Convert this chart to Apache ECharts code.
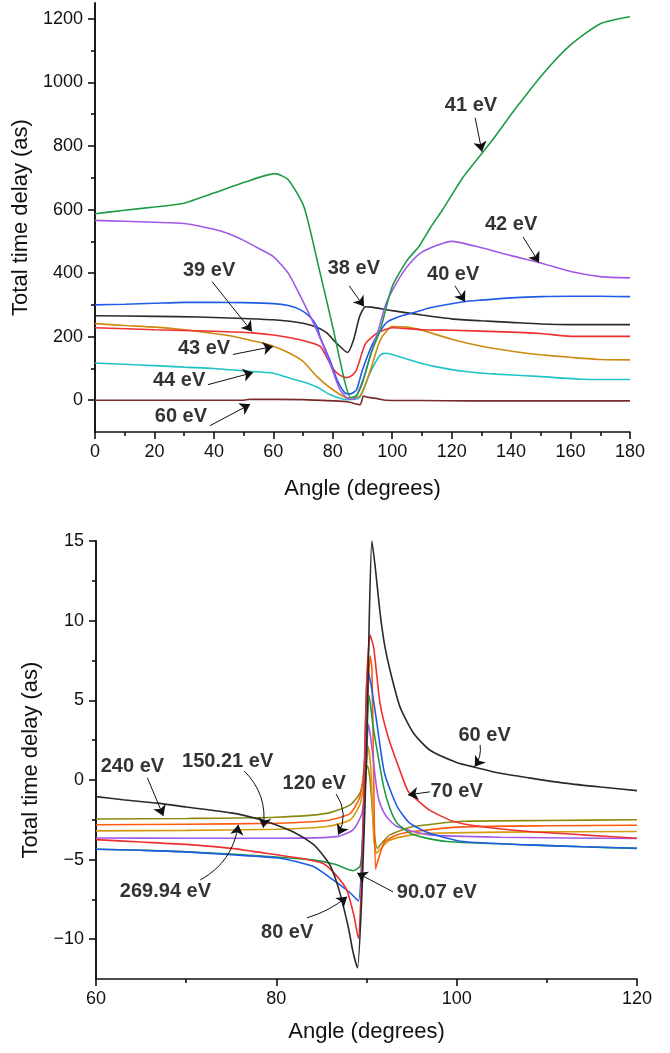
<!DOCTYPE html>
<html>
<head>
<meta charset="utf-8">
<script src="https://cdn.jsdelivr.net/npm/echarts@6/dist/echarts.min.js"></script>
<style>
    html, body { margin: 0; padding: 0; background: #fff; }
    #chart { width: 670px; height: 1053px; }
</style>
</head>
<body>
<div id="chart"></div>
<script>
    // ---- top panel: angle (deg) vs total time delay (as) ----
    var top38 = [[0,266],[20,264],[35,262],[50,257],[60,253],[70,242],[75,228],[78,212],[81,182],[85,150],[87,190],[89,263],[91,294],[93,293],[100,282],[110,268],[120,256],[130,250],[140,245],[150,240],[160,238],[170,238],[180,238]];
    var top39 = [[0,228],[20,222],[40,217],[53,212],[60,205],[69,190],[75.7,170],[77,152],[80,100],[82.5,78],[84.6,71],[86.5,78],[88,96],[91,178],[95,212],[100,228],[110,222],[120,220],[135,216],[150,210],[160,201],[170,201],[180,201]];
    var top40 = [[0,300],[10,302],[20,305],[30,308],[40,308],[50,307],[60,304],[65,298],[69,285],[72.3,263],[74.7,231],[75.7,200],[79,127],[81.4,65],[84,24],[86,20],[88,33],[90,96],[93.6,181],[98,244],[102,262],[107,275],[112.7,291],[124,310],[130,315],[140,322],[150,326],[160,327],[170,327],[180,326]];
    var top41 = [[0,587],[10,598],[20,608],[30,620],[40,652],[50,685],[60.6,713],[65,694],[70.3,609],[75,430],[80,230],[84,60],[86,8],[88,15],[90,55],[93,150],[96,222],[100,358],[105,440],[109,484],[113,545],[117,600],[124,704],[133,810],[142,924],[151,1030],[160,1118],[170,1185],[180,1207]];
    var top42 = [[0,566],[10,563],[20,560],[30,556],[40,538],[45,524],[50,503],[55,478],[60,452],[65,400],[68,348],[73,253],[76,190],[79,118],[82.4,33],[85,5],[87,3],[90,60],[92.5,137],[95,210],[98,306],[101.5,370],[105,420],[110,466],[120,500],[130,480],[140,455],[150,432],[160,405],[170,389],[180,385]];
    var top43 = [[0,241],[10,235],[20,230],[30,222],[40,210],[47,200],[55,183],[60,170],[65,150],[70,122],[74.6,75],[79,40],[84.8,8],[89,12],[92.5,90],[96,190],[100,232],[105,230],[110,220],[120,192],[130,170],[142,152],[150,143],[160,135],[170,128],[180,127]];
    var top44 = [[0,117],[10,113],[20,109],[30,104],[40,100],[50,92],[60,85],[67,65],[71,55],[75,40],[79,18],[84.6,2],[89,8],[92.5,85],[96,143],[98,148],[103,135],[109,118],[115,105],[124,91],[135,82],[149,75],[164,66],[180,65]];
    var top60 = [[0,0],[50,0],[52,3],[70,2],[80,-2],[85,-5],[89.2,-14],[90.3,13],[92,9],[95,5],[98,0],[110,-1],[125,-2],[180,-2]];

    // ---- bottom panel ----
    var bot60 = [[60,-1.05],[63,-1.25],[66.8,-1.46],[70,-1.7],[75,-2.07],[78,-2.45],[80,-2.83],[82,-3.3],[84,-4.0],[85,-4.6],[86,-5.4],[87,-7.0],[88,-9.3],[88.5,-10.8],[89,-11.8],[89.5,-7],[90,1.5],[90.3,10],[90.6,15],[91,13.2],[91.5,10.5],[92,8.5],[92.6,6.9],[93.7,4.6],[95.2,2.95],[97,1.88],[100,1.1],[102,0.8],[105,0.4],[108,0.13],[112,-0.2],[116,-0.45],[120,-0.67]];
    var bot70 = [[60,-3.75],[65,-3.9],[70,-4.05],[75,-4.3],[80,-4.7],[83,-4.95],[85.2,-5.25],[86.5,-5.9],[87.8,-6.9],[88.6,-8.5],[89.1,-9.95],[89.4,-7],[89.65,-2.5],[90,5.8],[90.4,9.1],[90.8,8.3],[91.5,4.8],[92.4,2.7],[93.7,0.6],[94.6,-0.7],[95.5,-1.2],[97,-1.9],[99.6,-2.6],[102.6,-2.93],[108,-3.24],[114,-3.45],[120,-3.66]];
    var bot80 = [[60,-4.35],[65,-4.42],[69.4,-4.5],[75,-4.7],[80.4,-4.92],[84.1,-5.44],[86.3,-6.28],[88.2,-7.1],[89.1,-7.6],[89.6,-3],[90.1,7.0],[90.5,6],[91.1,3.77],[92,0.42],[93.4,-1.67],[94.8,-2.72],[97,-3.35],[100.7,-3.87],[108,-4.08],[114,-4.2],[120,-4.29]];
    var bot90 = [[60,-4.35],[65,-4.42],[69.4,-4.5],[75,-4.65],[80,-4.85],[84.1,-5.02],[86.5,-5.3],[88.5,-5.7],[89.3,-5.4],[89.6,-3.5],[89.85,-0.4],[90.3,5.3],[90.7,3.5],[91.1,2.1],[91.9,-0.42],[92.6,-1.8],[93.4,-2.72],[95.2,-3.45],[98.9,-3.87],[108,-4.08],[114,-4.2],[120,-4.3]];
    var bot120 = [[60,-3.65],[70,-3.66],[80.4,-3.66],[86.7,-3.56],[88.5,-3.14],[89.5,-2.1],[89.9,0],[90.2,3.5],[90.5,2.5],[91.1,-0.42],[91.5,-1.5],[92.2,-2.3],[93.4,-2.93],[97,-3.45],[105,-3.6],[120,-3.68]];
    var bot150 = [[60,-2.82],[70,-2.78],[80,-2.72],[85.6,-2.55],[88.2,-2.1],[89.3,-1.0],[89.9,2],[90.4,7.8],[90.6,7],[90.8,0],[91,-5.6],[91.3,-5.0],[92,-3.9],[93.4,-3.45],[95.2,-3.24],[100.7,-2.95],[110,-2.88],[120,-2.85]];
    var bot240 = [[60,-2.45],[70,-2.42],[80,-2.34],[85.6,-2.1],[88.2,-1.57],[89.3,-0.8],[89.8,0.3],[90.1,0.9],[90.4,0],[90.8,-3],[91.2,-4.3],[91.8,-3.9],[92.6,-3.45],[95.2,-2.93],[100.7,-2.6],[110,-2.55],[120,-2.5]];
    var bot270 = [[60,-3.2],[70,-3.17],[80,-3.1],[85.6,-2.93],[88.2,-2.5],[89.3,-1.5],[89.9,0.5],[90.2,2.1],[90.5,0.5],[90.8,-3.5],[91.1,-4.6],[91.6,-4.3],[92.5,-3.8],[95,-3.45],[97,-3.35],[105,-3.28],[120,-3.24]];

    // tick labels
    var topYLabels = [0, 200, 400, 600, 800, 1000, 1200];
    var topYMinor = [100, 300, 500, 700, 900, 1100];
    var botYLabels = [-10, -5, 0, 5, 10, 15];
    var botYMinor = [-7.5, -2.5, 2.5, 7.5, 12.5];

    // labels: [text, [x, y]] and arrows: [from, to, curveness]
    var topNotes = [['41 eV',[126.5,929]],['42 eV',[140,552]],['38 eV',[87.1,414]],['40 eV',[120.5,395]],
        ['39 eV',[38.4,408]],['43 eV',[36.7,162]],['44 eV',[28.3,62]],['60 eV',[28.9,-51]]];
    var topArrows = [[[127.9,889],[130.2,782],0],[[144,514],[149.4,433],0],[[85.5,360],[90.5,295],0],[[121.1,360],[124.5,310],0],
        [[39.4,373],[52.8,216],0],[[46.4,144],[59.9,169],0],[[38,49],[53.2,87],0],[[38.7,-80],[52.2,-13],0]];
    var botNotes = [['60 eV',[103.1,2.82]],['70 eV',[100.0,-0.75]],['90.07 eV',[97.8,-7.09]],['80 eV',[81.2,-9.6]],
        ['120 eV',[84.2,-0.25]],['150.21 eV',[74.6,1.13]],['240 eV',[64.04,0.82]],['269.94 eV',[67.7,-7.03]]];
    var botArrows = [[[102.6,2.2],[102.0,0.82],0.2],[[97.04,-0.75],[94.6,-0.94],0],[[92.95,-7.03],[88.96,-5.84],0],[[83.4,-8.66],[87.85,-7.34],-0.1],
        [[86.63,-0.88],[86.85,-3.45],0.3],[[76.44,0.56],[78.55,-3.01],0.25],[[65.7,0.13],[67.47,-2.26],0],[[71.57,-6.28],[75.78,-2.82],-0.25]];

    var FONT = "'Liberation Sans', Arial, sans-serif";
    var INK = '#111';

    function line(name, data, color, axis) {
        return {
            name: name, type: 'line', data: data,
            xAxisIndex: axis, yAxisIndex: axis * 2,
            showSymbol: false, symbol: 'none', smooth: 0.2,
            lineStyle: { color: color, width: 1.6 },
            itemStyle: { color: color },
            silent: true
        };
    }

    function notes(list, axis) {
        return {
            type: 'scatter', xAxisIndex: axis, yAxisIndex: axis * 2,
            symbolSize: 0, silent: true, z: 10,
            data: list.map(function (n) { return { name: n[0], value: n[1] }; }),
            label: {
                show: true, position: 'inside', formatter: '{b}',
                color: '#000', fontSize: 20, fontWeight: 'bold', fontFamily: FONT
            }
        };
    }

    // arrows as a lines series (supports curves), on the tick-only axis of the panel
    function arrows(list, axis) {
        return {
            type: 'lines', coordinateSystem: 'cartesian2d',
            xAxisIndex: axis, yAxisIndex: axis * 2 + 1,
            silent: true, z: 9,
            symbol: ['none', 'arrow'], symbolSize: [1, 10],
            lineStyle: { color: INK, width: 1, opacity: 1 },
            data: list.map(function (a) {
                return { coords: [a[0], a[1]], lineStyle: { curveness: a[2] } };
            })
        };
    }

    function xAxis(grid, min, max, gap) {
        return {
            gridIndex: grid, type: 'value', min: min, max: max, interval: 20,
            name: 'Angle (degrees)', nameLocation: 'middle', nameGap: gap,
            nameTextStyle: { fontSize: 22, color: INK, fontFamily: FONT },
            axisLine: { onZero: false, lineStyle: { color: INK, width: 1.6 } },
            axisTick: { length: 7, lineStyle: { color: INK, width: 1.6 } },
            minorTick: { show: true, splitNumber: 2, length: 4, lineStyle: { color: INK, width: 1.6 } },
            axisLabel: { fontSize: 18, color: INK, margin: 11, fontFamily: FONT },
            splitLine: { show: false }
        };
    }

    function yAxis(grid, min, max, labels, gap) {
        return {
            gridIndex: grid, type: 'value', min: min, max: max, position: 'left',
            name: 'Total time delay (as)', nameLocation: 'middle', nameGap: gap,
            nameTextStyle: { fontSize: 22, color: INK, fontFamily: FONT },
            axisLine: { onZero: false, lineStyle: { color: INK, width: 1.6 } },
            axisTick: { customValues: labels, length: 7, lineStyle: { color: INK, width: 1.6 } },
            axisLabel: {
                customValues: labels, fontSize: 18, color: INK, margin: 12, fontFamily: FONT,
                formatter: function (v) { return String(v).replace('-', '\u2212'); }
            },
            splitLine: { show: false }
        };
    }

    // second axis on the same side, only for the short ticks (labels kept but invisible)
    function yMinor(grid, min, max, ticks) {
        return {
            gridIndex: grid, type: 'value', min: min, max: max, position: 'left', offset: 0,
            axisLine: { show: true, onZero: false, lineStyle: { color: INK, width: 1.6 } },
            axisTick: { show: true, customValues: ticks, length: 4, lineStyle: { color: INK, width: 1.6 } },
            axisLabel: { show: true, customValues: ticks, color: 'rgba(0,0,0,0)', fontSize: 8 },
            splitLine: { show: false }
        };
    }

    var chart = echarts.init(document.getElementById('chart'), null, { renderer: 'canvas' });

    chart.setOption({
        animation: false,
        backgroundColor: '#fff',
        textStyle: { fontFamily: FONT },
        grid: [
            { left: 95, top: 3, width: 535, height: 429 },
            { left: 96, top: 541, width: 541, height: 438 }
        ],
        xAxis: [xAxis(0, 0, 180, 46), xAxis(1, 60, 120, 42)],
        yAxis: [
            yAxis(0, -100, 1250, topYLabels, 52),
            yMinor(0, -100, 1250, topYMinor),
            yAxis(1, -12.5, 15, botYLabels, 54),
            yMinor(1, -12.5, 15, botYMinor)
        ],
        series: [
            line('60 eV', top60, '#7a2b2b', 0),
            line('44 eV', top44, '#22c3c6', 0),
            line('43 eV', top43, '#cc8a10', 0),
            line('39 eV', top39, '#f03030', 0),
            line('38 eV', top38, '#2a2a2a', 0),
            line('40 eV', top40, '#1f5ce6', 0),
            line('42 eV', top42, '#a259e6', 0),
            line('41 eV', top41, '#1e9c45', 0),
            notes(topNotes, 0),
            arrows(topArrows, 0),

            line('240 eV', bot240, '#8a8a10', 1),
            line('269.94 eV', bot270, '#d49a10', 1),
            line('150.21 eV', bot150, '#ff5a10', 1),
            line('120 eV', bot120, '#a259e6', 1),
            line('90.07 eV', bot90, '#1e9c45', 1),
            line('80 eV', bot80, '#1f5ce6', 1),
            line('70 eV', bot70, '#f03030', 1),
            line('60 eV', bot60, '#2a2a2a', 1),
            notes(botNotes, 1),
            arrows(botArrows, 1)
        ]
    });
</script>
</body>
</html>
